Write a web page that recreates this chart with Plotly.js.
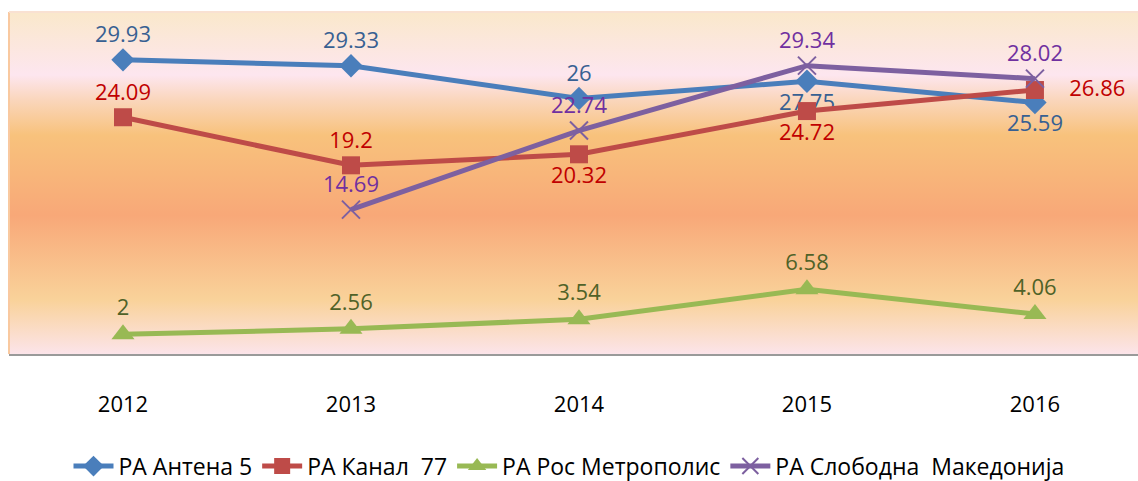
<!DOCTYPE html>
<html>
<head>
<meta charset="utf-8">
<script src="https://cdn.plot.ly/plotly-3.0.1.min.js"></script>
<style>
  html, body { margin: 0; padding: 0; background: #fff; }
  #chart { width: 1138px; height: 481px; }
</style>
</head>
<body>
<div id="chart"></div>
<script>
const years = ['2012', '2013', '2014', '2015', '2016'];
const antena = [29.93, 29.33, 26, 27.75, 25.59];
const kanal = [24.09, 19.2, 20.32, 24.72, 26.86];
const ros = [2, 2.56, 3.54, 6.58, 4.06];
const sloboda = [null, 14.69, 22.74, 29.34, 28.02];

const names = ['РА Антена 5', 'РА Канал  77', 'РА Рос Метрополис', 'РА Слободна  Македонија'];

// where each data label sits relative to its point
const antenaPos = ['top center', 'top center', 'top center', 'bottom center', 'bottom center'];
const kanalPos = ['top center', 'top center', 'bottom center', 'bottom center', 'middle right'];
const rosPos = ['top center', 'top center', 'top center', 'top center', 'top center'];
const slobodaPos = ['top center', 'top center', 'top center', 'top center', 'top center'];

const labelFont = 'Open Sans, Liberation Sans, sans-serif';
// labels to the right of a point get a little extra gap
const txt = (arr, pos) => arr.map((v, i) => v === null ? '' :
    (pos[i] === 'middle right' ? '\u2002\u2002' + v : String(v)));

function series(name, y, pos, lineCol, textCol, marker) {
    return {
        x: years,
        y: y,
        name: name,
        type: 'scatter',
        mode: 'lines+markers+text',
        text: txt(y, pos),
        textposition: pos,
        textfont: { family: labelFont, size: 22, color: textCol },
        line: { color: lineCol, width: 5 },
        marker: marker,
        cliponaxis: false,
        connectgaps: false
    };
}

const traces = [
    series(names[0], antena, antenaPos, '#4A7EBB', '#376092',
        { symbol: 'diamond', size: 18, color: '#4A7EBB' }),
    series(names[1], kanal, kanalPos, '#BE4B48', '#C00000',
        { symbol: 'square', size: 18, color: '#BE4B48' }),
    series(names[2], ros, rosPos, '#98B954', '#4F6228',
        { symbol: 'triangle-up', size: 20, color: '#98B954' }),
    series(names[3], sloboda, slobodaPos, '#7D60A0', '#7030A0',
        { symbol: 'x-thin', size: 18, color: '#7D60A0', line: { color: '#7D60A0', width: 2 } })
];

const grad = '<svg xmlns="http://www.w3.org/2000/svg" width="100" height="100" preserveAspectRatio="none">' +
    '<defs><linearGradient id="g" x1="0" y1="0" x2="0" y2="1">' +
    '<stop offset="0" stop-color="#FAE8CB"/>' +
    '<stop offset="0.184" stop-color="#FDE6EF"/>' +
    '<stop offset="0.257" stop-color="#FAD6BC"/>' +
    '<stop offset="0.36" stop-color="#F8C27C"/>' +
    '<stop offset="0.594" stop-color="#F8A878"/>' +
    '<stop offset="0.842" stop-color="#F9D29A"/>' +
    '<stop offset="1" stop-color="#FCE4EA"/>' +
    '</linearGradient></defs><rect width="100" height="100" fill="url(#g)"/></svg>';

const layout = {
    width: 1138,
    height: 481,
    margin: { l: 9, r: 0, t: 12, b: 127 },
    paper_bgcolor: '#ffffff',
    plot_bgcolor: 'rgba(0,0,0,0)',
    showlegend: true,
    images: [{
        source: 'data:image/svg+xml;charset=utf-8,' + encodeURIComponent(grad),
        xref: 'paper', yref: 'paper',
        x: 0, y: 1, sizex: 1, sizey: 1,
        xanchor: 'left', yanchor: 'top',
        sizing: 'stretch', layer: 'below'
    }],
    xaxis: {
        type: 'category',
        range: [-0.5, 4.452],
        showgrid: false,
        zeroline: false,
        showline: true,
        linecolor: '#9A9A9A',
        linewidth: 2,
        ticks: '',
        ticklabelstandoff: 30,
        tickfont: { family: labelFont, size: 22, color: '#000000' }
    },
    yaxis: {
        range: [0, 34.8],
        showgrid: false,
        zeroline: false,
        showticklabels: false,
        showline: false
    },
    legend: {
        orientation: 'h',
        xref: 'container', yref: 'container',
        x: 0.5, xanchor: 'center',
        y: 0.031, yanchor: 'middle',
        font: { family: labelFont, size: 23, color: '#000000' },
        bgcolor: 'rgba(0,0,0,0)',
        itemwidth: 40,
        traceorder: 'normal'
    },
    shapes: [{
        type: 'line', xref: 'paper', yref: 'paper',
        x0: 0, x1: 0, y0: 0, y1: 1,
        line: { color: '#F9C9A0', width: 2 }
    }, {
        type: 'line', xref: 'paper', yref: 'paper',
        x0: 0, x1: 1, y0: 1, y1: 1,
        line: { color: '#F9E1D2', width: 2 }
    }]
};

Plotly.newPlot('chart', traces, layout, { displayModeBar: false, staticPlot: true });
</script>
</body>
</html>
